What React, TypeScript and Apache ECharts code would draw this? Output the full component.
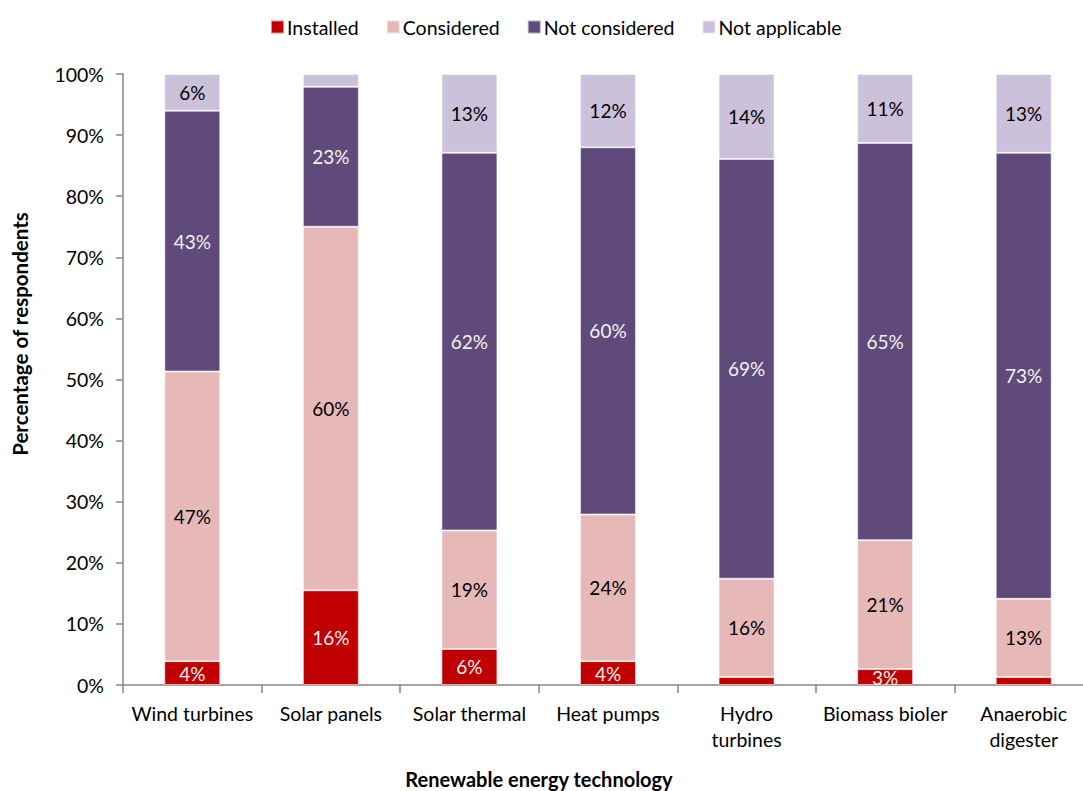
import React, { useEffect, useRef } from "react";
import * as echarts from "echarts";

const categories = [
  "Wind turbines",
  "Solar panels",
  "Solar thermal",
  "Heat pumps",
  "Hydro\nturbines",
  "Biomass bioler",
  "Anaerobic\ndigester",
];
const installed = [3.9, 15.5, 5.9, 3.9, 1.3, 2.6, 1.3];
const considered = [47.4, 59.5, 19.4, 24.0, 16.1, 21.1, 12.8];
const notConsidered = [42.7, 22.9, 61.8, 60.1, 68.7, 65.0, 73.0];
const notApplicable = [6.0, 2.1, 12.9, 12.0, 13.9, 11.3, 12.9];
const yTicks = [0, 10, 20, 30, 40, 50, 60, 70, 80, 90, 100];

const FONT = "Lato, 'Open Sans', sans-serif";
const FS = 19.5;

export default function App() {
  const ref = useRef<HTMLDivElement>(null);
  useEffect(() => {
    if (!ref.current) return;
    const chart = echarts.init(ref.current, undefined, { renderer: "svg" });
    const mk = (name: string, data: number[], color: string, labelColor: string) => ({
      name,
      type: "bar",
      stack: "total",
      data,
      barWidth: 56,
      itemStyle: { color, borderColor: "rgba(255,255,255,0.55)", borderWidth: 1 },
      label: {
        show: true,
        position: "inside",
        color: labelColor,
        fontFamily: FONT,
        fontSize: 19,
        formatter: (p: any) => (p.value < 2.5 ? "" : Math.round(p.value) + "%"),
      },
    });
    chart.setOption({
      animation: false,
      textStyle: { fontFamily: FONT },
      legend: {
        top: 12,
        left: 265,
        itemWidth: 13,
        itemHeight: 13,
        itemGap: 27,
        icon: "rect",
        textStyle: { fontFamily: FONT, fontSize: FS, color: "#000", padding: [0, 0, 0, -2] },
        data: ["Installed", "Considered", "Not considered", "Not applicable"],
      },
      grid: { left: 123, right: 7, top: 74, bottom: 106 },
      xAxis: {
        type: "category",
        data: categories,
        axisLine: { lineStyle: { color: "#868686", width: 1.5 } },
        axisTick: { show: true, length: 8, lineStyle: { color: "#868686", width: 1.5 } },
        axisLabel: {
          color: "#000",
          fontFamily: FONT,
          fontSize: FS,
          lineHeight: 26,
          margin: 15,
          interval: 0,
        },
      },
      yAxis: {
        type: "value",
        min: yTicks[0],
        max: yTicks[yTicks.length - 1],
        interval: 10,
        splitLine: { show: false },
        axisLine: { show: true, lineStyle: { color: "#868686", width: 1.5 } },
        axisTick: { show: true, length: 7, lineStyle: { color: "#868686", width: 1.5 } },
        axisLabel: {
          color: "#000",
          fontFamily: FONT,
          fontSize: FS,
          margin: 19,
          formatter: "{value}%",
        },
      },
      graphic: [
        {
          type: "text",
          x: 20,
          y: 334,
          rotation: Math.PI / 2,
          style: {
            text: "Percentage of respondents",
            fontFamily: FONT,
            fontSize: 20.5,
            fontWeight: "bold",
            fill: "#000",
            align: "center",
            verticalAlign: "middle",
          },
        },
        {
          type: "text",
          x: 539,
          y: 779,
          style: {
            text: "Renewable energy technology",
            fontFamily: FONT,
            fontSize: 20,
            fontWeight: "bold",
            fill: "#000",
            align: "center",
            verticalAlign: "middle",
          },
        },
      ],
      series: [
        mk("Installed", installed, "#C00000", "#F2F2F2"),
        mk("Considered", considered, "#E6B9B8", "#000"),
        mk("Not considered", notConsidered, "#604A7B", "#F2F2F2"),
        mk("Not applicable", notApplicable, "#CCC1DA", "#000"),
      ],
    });
    return () => chart.dispose();
  }, []);
  return (
    <div style={{ position: "absolute", left: 0, top: 0, width: 1083, height: 791, overflow: "hidden" }}>
      <div ref={ref} style={{ width: 1100, height: 791 }} />
    </div>
  );
}
